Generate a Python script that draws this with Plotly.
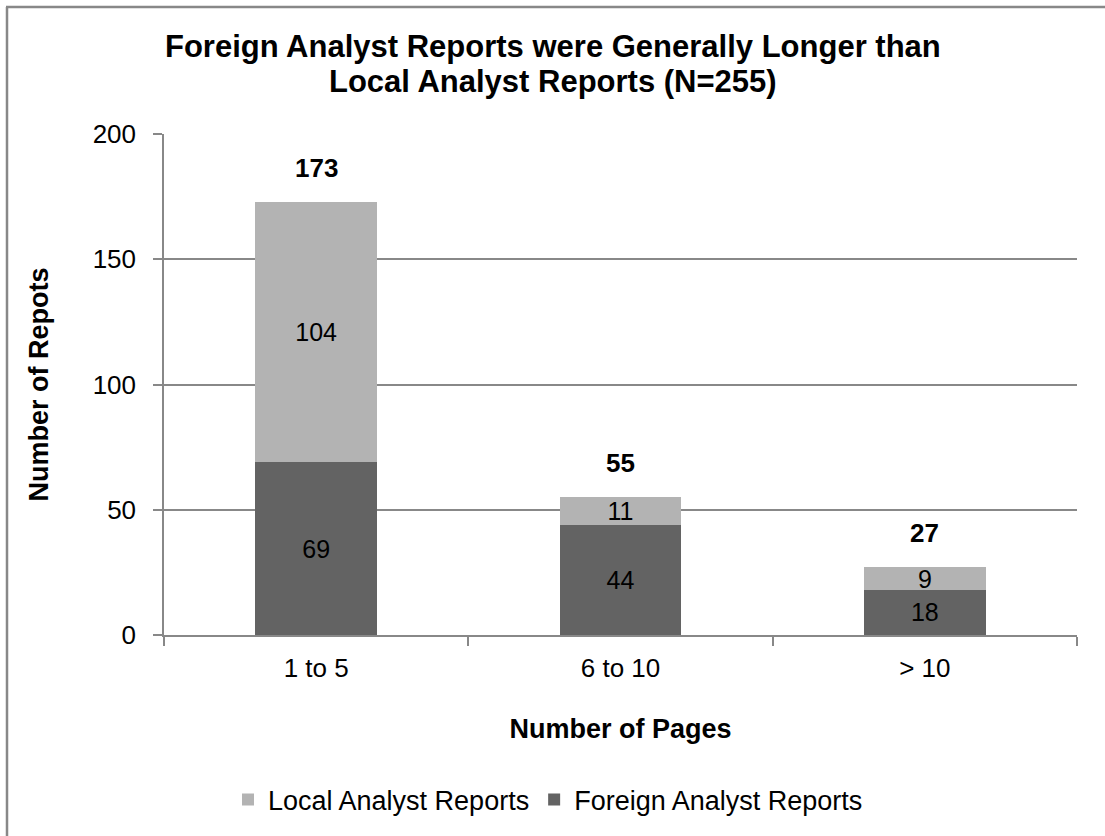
import plotly.graph_objects as go

categories = ["1 to 5", "6 to 10", "> 10"]
foreign = [69, 44, 18]
local = [104, 11, 9]
totals = [173, 55, 27]
title_lines = ["Foreign Analyst Reports were Generally Longer than",
               "Local Analyst Reports (N=255)"]

FONT = "Liberation Sans, Arial, sans-serif"
DARK = "#636363"
LIGHT = "#b3b3b3"
GRID = "#888888"

W, H = 1105, 836
L, R, T, B = 164, 28, 134, 201
pw, ph = W - L - R, H - T - B


def px_x(px):
    return (px - L) / pw


def px_y(py):
    return (H - B - py) / ph


fig = go.Figure()
fig.add_trace(go.Bar(
    x=categories, y=foreign, name="Foreign Analyst Reports",
    marker=dict(color=DARK, line=dict(width=0)),
    text=foreign, textposition="inside", insidetextanchor="middle",
    constraintext="none", textangle=0,
    textfont=dict(family=FONT, size=25, color="black"),
))
fig.add_trace(go.Bar(
    x=categories, y=local, name="Local Analyst Reports",
    marker=dict(color=LIGHT, line=dict(width=0)),
    text=local, textposition="inside", insidetextanchor="middle",
    constraintext="none", textangle=0,
    textfont=dict(family=FONT, size=25, color="black"),
))

# bold totals above each stack
for c, t in zip(categories, totals):
    fig.add_annotation(x=c, y=t, text=f"<b>{t}</b>", showarrow=False,
                       yanchor="middle", yshift=34,
                       font=dict(family=FONT, size=26, color="black"))

# two-line bold heading
for line, ypx in zip(title_lines, [46, 82]):
    fig.add_annotation(xref="paper", yref="paper", x=px_x(W / 2), y=px_y(ypx),
                       xanchor="center", yanchor="middle", showarrow=False,
                       text=f"<b>{line}</b>",
                       font=dict(family=FONT, size=31, color="black"))

# outer frame (left and top edges)
fig.add_shape(type="line", xref="paper", yref="paper",
              x0=px_x(7), x1=px_x(7), y0=px_y(850), y1=px_y(7),
              line=dict(color=GRID, width=2.5))
fig.add_shape(type="line", xref="paper", yref="paper",
              x0=px_x(6), x1=px_x(1120), y0=px_y(7), y1=px_y(7),
              line=dict(color=GRID, width=2.5))

fig.update_layout(
    width=W, height=H,
    barmode="stack", bargap=0.6,
    margin=dict(l=L, r=R, t=T, b=B),
    paper_bgcolor="white", plot_bgcolor="white",
    font=dict(family=FONT, size=26, color="black"),
    legend=dict(orientation="h", x=px_x(228), xanchor="left", y=px_y(800), yanchor="middle",
                traceorder="reversed", font=dict(family=FONT, size=27, color="black"),
                itemwidth=30),
    showlegend=True,
)
fig.update_xaxes(
    type="category", showgrid=False, showline=True, linecolor=GRID, linewidth=1.5,
    ticks="outside", tickson="boundaries", ticklen=9, tickcolor=GRID, tickwidth=1.5,
    ticklabelstandoff=9,
    tickfont=dict(family=FONT, size=26, color="black"),
    title=dict(text="<b>Number of Pages</b>", font=dict(family=FONT, size=27, color="black"), standoff=37),
)
fig.update_yaxes(
    range=[0, 200], dtick=50, showgrid=True, gridcolor=GRID, gridwidth=1.5,
    showline=True, linecolor=GRID, linewidth=1.5, zeroline=False,
    ticks="outside", ticklen=9, tickcolor=GRID, tickwidth=1.5,
    ticklabelstandoff=12,
    tickfont=dict(family=FONT, size=26, color="black"),
    title=dict(text="<b>Number of Repots</b>", font=dict(family=FONT, size=27, color="black"), standoff=36),
)

fig.write_html("out.html")
